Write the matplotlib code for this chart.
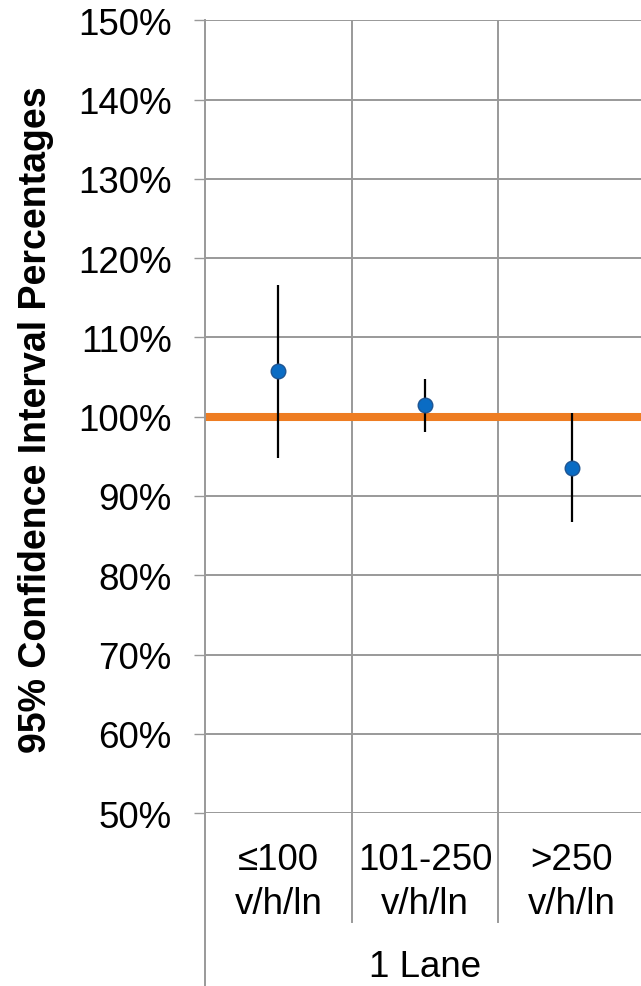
import matplotlib
matplotlib.use("Agg")
import matplotlib.pyplot as plt
import matplotlib.transforms as mtransforms
from matplotlib.lines import Line2D

plt.rcParams['font.family'] = ['Liberation Sans', 'DejaVu Sans']

# Data
categories = ["≤100\nv/h/ln", "101-250\nv/h/ln", ">250\nv/h/ln"]
group_label = "1 Lane"
means = [105.7, 101.45, 93.55]
upper = [116.6, 104.75, 100.45]
lower = [94.75, 98.1, 86.7]
reference = 100.0
y_ticks = [50, 60, 70, 80, 90, 100, 110, 120, 130, 140, 150]
y_label = "95% Confidence Interval Percentages"

W, H = 641, 987
fig = plt.figure(figsize=(W / 100, H / 100), dpi=100)
left_px, right_px, top_px, bottom_px = 205, 645, 21.2, 814.2
ax = fig.add_axes([left_px / W, (H - bottom_px) / H,
                   (right_px - left_px) / W, (bottom_px - top_px) / H])

grid_color = "#999999"
n = len(categories)
xs = list(range(n))
ax.set_xlim(-0.5, n - 0.5)
ax.set_ylim(50, 150)

# grid
for yv in y_ticks:
    ax.axhline(yv, color=grid_color, lw=1.4, zorder=0)
for b in [i + 0.5 for i in range(n)]:
    ax.axvline(b, color=grid_color, lw=1.4, zorder=0)

# reference line
ax.axhline(reference, color="#EE7D22", lw=5.8, zorder=2)

# error bars and points
err_lo = [m - l for m, l in zip(means, lower)]
err_hi = [u - m for m, u in zip(means, upper)]
ax.errorbar(xs, means, yerr=[err_lo, err_hi], fmt="none", ecolor="black",
            elinewidth=1.6, capsize=0, zorder=3)
ax.plot(xs, means, "o", color="#0A6CC4", markeredgecolor="#1F5592",
        markeredgewidth=1.0, markersize=10.5, zorder=4)

# spines and ticks
for s in ["top", "right", "bottom"]:
    ax.spines[s].set_visible(False)
ax.spines["left"].set_color(grid_color)
ax.spines["left"].set_linewidth(1.4)
ax.set_yticks(y_ticks)
ax.set_yticklabels([f"{v}%" for v in y_ticks])
ax.tick_params(axis="y", direction="out", length=8, width=1.0,
               color=grid_color, labelsize=26.5, pad=16)
ax.set_xticks([])

# category axis below the plot
blend = mtransforms.blended_transform_factory(ax.transData, fig.transFigure)
def fy(px):
    return (H - px) / H

ax.add_line(Line2D([-0.5, -0.5], [fy(bottom_px), fy(H + 5)], transform=blend,
                   color=grid_color, lw=1.4, clip_on=False))
for b in [i + 0.5 for i in range(n - 1)]:
    ax.add_line(Line2D([b, b], [fy(bottom_px), fy(923)], transform=blend,
                       color=grid_color, lw=1.4, clip_on=False))
for x, lab in zip(xs, categories):
    fig.text(0, 0, lab, transform=blend, fontsize=26.5, ha="center",
             va="top", linespacing=1.32).set_position((x, fy(843)))
fig.text(0, 0, group_label, transform=blend, fontsize=26.5, ha="center",
         va="baseline").set_position((1, fy(977)))

fig.text(36 / W, fy(420), y_label, rotation=90, fontsize=27,
         fontweight="bold", ha="center", va="center")

fig.savefig("out.png", dpi=100)
